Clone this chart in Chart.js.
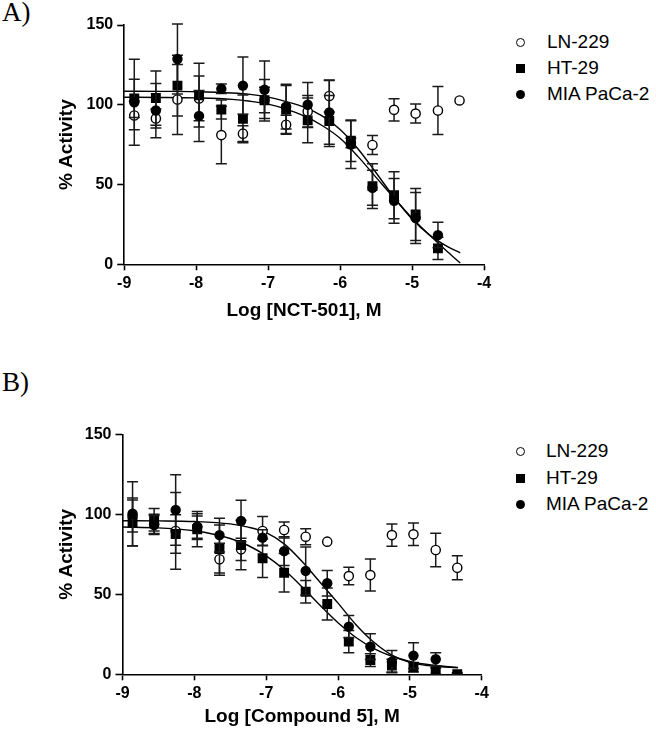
<!DOCTYPE html>
<html>
<head>
<meta charset="utf-8">
<script src="https://cdn.jsdelivr.net/npm/chart.js@4.4.1/dist/chart.umd.min.js"></script>
<style>
  body { margin: 0; background: #fff; }
  #wrap { position: relative; width: 656px; height: 731px; overflow: hidden; background: #fff; }
  canvas { position: absolute; left: 0; }
  .panel { position: absolute; left: 2px; font-family: "Liberation Serif", "Times New Roman", serif; font-size: 27px; line-height: 27px; color: #000; }
  .row { position: absolute; height: 22px; line-height: 22px; font-family: "Liberation Sans", Arial, sans-serif; font-size: 19px; white-space: nowrap; color: #000; }
  .mk { position: absolute; box-sizing: border-box; }
</style>
</head>
<body>
<div id="wrap">
  <div class="panel" style="top:-1px;">A)</div>
  <div class="panel" style="top:369px;">B)</div>
  <canvas id="chartA" width="500" height="330" style="top:0;width:500px;height:330px;"></canvas>
  <canvas id="chartB" width="500" height="361" style="top:370px;width:500px;height:361px;"></canvas>
</div>
<script>
// ---------- DATA ----------
const seriesNames = ["LN-229", "HT-29", "MIA PaCa-2"];
const xTicks = [-9, -8, -7, -6, -5, -4];
const yTicks = [0, 50, 100, 150];
const xTitleA = "Log [NCT-501], M";
const xTitleB = "Log [Compound 5], M";
const yTitle = "% Activity";

// log concentration (M) of each dose
const doseLogM = [-8.86, -8.56, -8.26, -7.96, -7.65, -7.35, -7.05, -6.75, -6.45, -6.15, -5.85, -5.55, -5.25, -4.95, -4.64, -4.34];

// Panel A (NCT-501)
const lnA     = [93.3, 91.4, 103.3, 104, 81, 81.9, 103, 87.5, 95.8, 105.5, 76, 74.8, 96.8, 94.5, 96.4, 102.7];
const lnA_sd  = [9, 6, 22, 14, 18, 5, 8, 6, 10, 10, 3, 6, 7, 6, 15, 0];
const htA     = [104, 104.2, 112, 106, 97, 91.2, 102.8, 97, 90.2, 89.8, 77.5, 49, 43.3, 31.2, 10, null];
const htA_sd  = [12, 17, 19, 20, 6, 15, 13, 15, 14, 16, 13, 14, 14.7, 16.3, 7, null];
const miaA    = [101.6, 96.4, 128.7, 93, 110, 112, 109.4, 98.8, 100, 95.2, 75, 48, 39.8, 29, 18.3, null];
const miaA_sd = [27, 17, 22, 16, 3, 18, 18, 14, 14, 20, 15, 11, 14, 16, 8, null];

// Panel B (Compound 5)
const lnB     = [99, 94, 89.6, 92, 71.9, 78.1, 89.6, 90.2, 86, 82.9, 61.4, 62, 87, 87.5, 77.7, 66.6];
const lnB_sd  = [10, 6, 24, 7, 10, 7, 9, 5, 5, 0, 5.5, 10, 7, 7, 10.5, 7.5];
const htB     = [95.2, 96.6, 87.7, 90.7, 78.3, 80.8, 72.5, 63.5, 51.6, 43.9, 20.4, 8.9, 5.4, 4.4, 2, 0];
const htB_sd  = [15, 7, 12, 11, 15, 15.5, 12, 12, 7, 10, 7, 4, 4, 3, 2, 1];
const miaB    = [100.4, 93.3, 102.7, 92.3, 87, 95.8, 85.4, 77, 64.6, 56.9, 29.8, 17.3, 7.9, 11.7, 9.4, null];
const miaB_sd = [20, 6, 22, 8, 10.5, 13, 5, 9, 15, 8, 7, 8, 7, 8, 4, null];

// fitted curves
const fitX       = [-9, -8.5, -8, -7.5, -7.25, -7, -6.75, -6.5, -6.25, -6, -5.75, -5.5, -5.25, -5, -4.75, -4.5, -4.33];
const fitMiaA    = [108.5, 108.4, 108.2, 107.4, 106.5, 104.8, 102, 98.5, 93, 84.5, 72.3, 57.4, 42, 28.4, 18.1, 10.9, 7.2];
const fitHtA     = [104.7, 104.6, 104.3, 103.4, 102.2, 100.4, 97.3, 93, 87, 79, 67.5, 54.5, 41.5, 29, 18, 7.5, 0.8];
const fitMiaB    = [96, 95.9, 95.5, 94, 92, 88.5, 81.5, 70.5, 57.5, 44.5, 31, 20, 12, 7.5, 5.5, 4.5, 4.1];
const fitHtB     = [92.1, 91.5, 89.7, 84.9, 80.5, 74, 65.3, 54.6, 43.1, 32.2, 23, 16.1, 11.3, 8.1, 6.1, 4.9, 4.3];

// ---------- HELPERS ----------
const FONT = '"Liberation Sans", Arial, sans-serif';
const pts = (xs, ys) => xs.map((x, i) => ({ x: x, y: ys[i] })).filter(p => p.y !== null && p.y !== undefined);

function markerDataset(label, ys, sds, style) {
  const base = {
    label: label,
    data: pts(doseLogM, ys),
    errors: doseLogM.map((x, i) => ({ x: x, y: ys[i], e: sds[i] })).filter(p => p.y !== null && p.e),
    showLine: false,
    borderColor: '#000',
  };
  if (style === 'open') Object.assign(base, { pointStyle: 'circle', pointRadius: 4.6, pointBorderWidth: 1.4, pointBackgroundColor: '#fff', pointBorderColor: '#000' });
  if (style === 'square') Object.assign(base, { pointStyle: 'rect', pointRadius: 7, pointBorderWidth: 0, pointBackgroundColor: '#000', pointBorderColor: '#000' });
  if (style === 'dot') Object.assign(base, { pointStyle: 'circle', pointRadius: 5.2, pointBorderWidth: 0, pointBackgroundColor: '#000', pointBorderColor: '#000' });
  return base;
}
function curveDataset(ys) {
  return {
    label: 'fit',
    data: pts(fitX, ys),
    showLine: true,
    pointRadius: 0,
    borderColor: '#000',
    borderWidth: 1.4,
    cubicInterpolationMode: 'monotone',
    fill: false,
    clip: 4,
  };
}

const errorBarPlugin = {
  id: 'errorBars',
  beforeDatasetDraw(chart, args) {
    const ds = chart.data.datasets[args.index];
    if (!ds.errors) return;
    const xs = chart.scales.x, ys = chart.scales.y, ctx = chart.ctx;
    ctx.save();
    ctx.strokeStyle = '#1a1a1a';
    ctx.lineWidth = 1.5;
    ds.errors.forEach(p => {
      const px = xs.getPixelForValue(p.x);
      const yt = ys.getPixelForValue(Math.min(p.y + p.e, 151));
      const yb = ys.getPixelForValue(Math.max(p.y - p.e, 0));
      ctx.beginPath();
      ctx.moveTo(px, yt); ctx.lineTo(px, yb);
      ctx.moveTo(px - 5.5, yt); ctx.lineTo(px + 5.5, yt);
      ctx.moveTo(px - 5.5, yb); ctx.lineTo(px + 5.5, yb);
      ctx.stroke();
    });
    ctx.restore();
  }
};

function makeChart(id, opts) {
  const d = opts.data;
  return new Chart(document.getElementById(id), {
    type: 'scatter',
    data: {
      datasets: [
        markerDataset(seriesNames[2], d.mia, d.miaSd, 'dot'),
        markerDataset(seriesNames[1], d.ht, d.htSd, 'square'),
        markerDataset(seriesNames[0], d.ln, d.lnSd, 'open'),
        curveDataset(d.fit1),
        curveDataset(d.fit2),
      ]
    },
    options: {
      responsive: false,
      animation: false,
      devicePixelRatio: 1,
      layout: { padding: { top: opts.padTop, right: opts.padRight, left: 0, bottom: 0 } },
      plugins: { legend: { display: false }, tooltip: { enabled: false } },
      scales: {
        x: {
          type: 'linear', min: xTicks[0], max: xTicks[xTicks.length - 1],
          afterBuildTicks: s => { s.ticks = xTicks.map(v => ({ value: v })); },
          afterFit: s => { s.height = opts.xHeight; },
          grid: { display: true, drawOnChartArea: false, drawTicks: true, tickLength: 6, tickWidth: 1.6, tickColor: '#000' },
          border: { display: true, color: '#000', width: 1.6 },
          ticks: { color: '#000', padding: 4, font: { family: FONT, size: 16, weight: 'bold' }, maxRotation: 0, autoSkip: false },
          title: { display: true, text: opts.xTitle, color: '#000', font: { family: FONT, size: 19, weight: 'bold' }, padding: { top: 0, bottom: opts.xTitlePad } }
        },
        y: {
          type: 'linear', min: yTicks[0], max: yTicks[yTicks.length - 1],
          afterBuildTicks: s => { s.ticks = yTicks.map(v => ({ value: v })); },
          afterFit: s => { s.width = opts.yWidth; },
          grid: { display: true, drawOnChartArea: false, drawTicks: true, tickLength: 7, tickWidth: 1.6, tickColor: '#000' },
          border: { display: true, color: '#000', width: 1.6 },
          ticks: { color: '#000', padding: 4, font: { family: FONT, size: 16, weight: 'bold' } },
          title: { display: true, text: yTitle, color: '#000', font: { family: FONT, size: 19, weight: 'bold' }, padding: { top: 55, bottom: 0 } }
        }
      }
    },
    plugins: [errorBarPlugin]
  });
}

makeChart('chartA', {
  data: { ln: lnA, lnSd: lnA_sd, ht: htA, htSd: htA_sd, mia: miaA, miaSd: miaA_sd, fit1: fitMiaA, fit2: fitHtA },
  padTop: 25, padRight: 16, xHeight: 65.7, yWidth: 124.2, xTitle: xTitleA, xTitlePad: 7.6
});
makeChart('chartB', {
  data: { ln: lnB, lnSd: lnB_sd, ht: htB, htSd: htB_sd, mia: miaB, miaSd: miaB_sd, fit1: fitMiaB, fit2: fitHtB },
  padTop: 64.3, padRight: 18.3, xHeight: 56.7, yWidth: 122.5, xTitle: xTitleB, xTitlePad: 2.6
});

// ---------- LEGENDS (HTML) ----------
const wrap = document.getElementById('wrap');
function legend(rowsY, markerX, textX) {
  const styles = [
    'width:9px;height:9px;border:1.4px solid #000;border-radius:50%;background:#fff;',
    'width:9px;height:9px;background:#000;',
    'width:9px;height:9px;background:#000;border-radius:50%;'
  ];
  seriesNames.forEach((name, i) => {
    const m = document.createElement('div');
    m.className = 'mk';
    m.style.cssText = styles[i] + 'left:' + (markerX - 4.5) + 'px;top:' + (rowsY[i] - 4.5) + 'px;';
    wrap.appendChild(m);
    const t = document.createElement('div');
    t.className = 'row';
    t.textContent = name;
    t.style.left = textX + 'px';
    t.style.top = (rowsY[i] - 11) + 'px';
    wrap.appendChild(t);
  });
}
legend([42, 68, 94], 520, 547);
legend([451, 478, 504], 520, 546);
</script>
</body>
</html>
